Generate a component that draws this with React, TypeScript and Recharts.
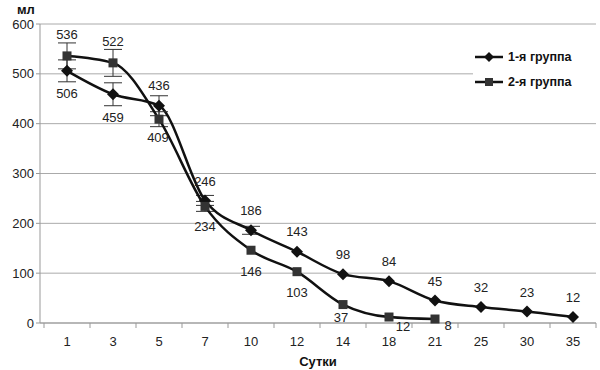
import React from "react";
import { LineChart, Line, XAxis, YAxis, CartesianGrid, ErrorBar, LabelList, Legend } from "recharts";

const days = ["1", "3", "5", "7", "10", "12", "14", "18", "21", "25", "30", "35"];
const group1 = [506, 459, 436, 246, 186, 143, 98, 84, 45, 32, 23, 12];
const group1Err = [22, 23, 20, 10, 8, 0, 0, 0, 0, 0, 0, 0];
const group2: (number | null)[] = [536, 522, 409, 234, 146, 103, 37, 12, 8, null, null, null];
const group2Err = [26, 27, 15, 10, 0, 0, 0, 0, 0, 0, 0, 0];
const yTicks = [0, 100, 200, 300, 400, 500, 600];
const seriesNames = ["1-я группа", "2-я группа"];

// label placement (style only): [dx, dy]
const g1Place: [number, number][] = [
  [0, 24], [0, 24], [0, -19], [0, -18], [0, -19], [0, -19], [0, -19], [0, -19], [0, -18], [0, -18], [0, -18], [0, -18],
];
const g2Place: [number, number][] = [
  [0, -20], [0, -20], [-1, 19], [0, 21], [0, 22], [0, 22], [-2, 14], [14, 11], [13, 8], [0, 0], [0, 0], [0, 0],
];

const data = days.map((d, i) => ({
  day: d,
  g1: group1[i],
  g1e: group1Err[i] || undefined,
  g2: group2[i],
  g2e: group2Err[i] || undefined,
}));

const FONT = "'Liberation Sans', Arial, sans-serif";

const Diamond = (props: any) => {
  const { cx, cy } = props;
  if (cx == null || cy == null) return null;
  const s = 6;
  return <polygon points={`${cx},${cy - s} ${cx + s},${cy} ${cx},${cy + s} ${cx - s},${cy}`} fill="#111" />;
};
const Square = (props: any) => {
  const { cx, cy } = props;
  if (cx == null || cy == null || props.value == null) return null;
  return <rect x={cx - 4.5} y={cy - 4.5} width={9} height={9} fill="#333" />;
};

const makeLabel = (place: [number, number][]) => (props: any) => {
  const { x, y, value, index } = props;
  if (value == null) return null;
  const [dx, dy] = place[index] || [0, 0];
  return (
    <text
      x={x + dx}
      y={y + dy}
      textAnchor="middle"
      dominantBaseline="middle"
      fontSize={13}
      fill="#222"
      stroke="none"
      style={{ fill: "#222", stroke: "none" }}
      fontFamily={FONT}
    >
      {value}
    </text>
  );
};

const XTick = (props: any) => {
  const { x, y, payload, index } = props;
  const off = payload.offset || 23;
  return (
    <g>
      <line x1={x - off} x2={x - off} y1={y - 8} y2={y - 3} stroke="#999" />
      {index === days.length - 1 && <line x1={x + off} x2={x + off} y1={y - 8} y2={y - 3} stroke="#999" />}
      <text x={x} y={y + 15} textAnchor="middle" fontSize={13} fill="#222" fontFamily={FONT}>
        {payload.value}
      </text>
    </g>
  );
};

const LegendContent = () => (
  <div style={{ fontFamily: FONT, fontSize: 12.5, fontWeight: "bold", color: "#111", background: "#fff" }}>
    {seriesNames.map((n, i) => (
      <div key={n} style={{ display: "flex", alignItems: "center", height: 25 }}>
        <svg width={32} height={12} style={{ marginRight: 3 }}>
          <line x1={2} x2={30} y1={6} y2={6} stroke="#111" strokeWidth={2.5} />
          {i === 0 ? (
            <polygon points="16,1 21,6 16,11 11,6" fill="#111" />
          ) : (
            <rect x={12} y={2} width={8} height={8} fill="#333" />
          )}
        </svg>
        <span>{n}</span>
      </div>
    ))}
  </div>
);

export default function App() {
  return (
    <div style={{ position: "absolute", left: 0, top: 0, width: 600, height: 370, background: "#fff" }}>
      <LineChart width={600} height={370} data={data} margin={{ top: 24, right: 4, left: 0, bottom: 0 }}>
        <CartesianGrid horizontal vertical={false} stroke="#aaa" strokeWidth={1} />
        <XAxis
          dataKey="day"
          scale="band"
          padding={{ left: 4, right: 0 }}
          height={47}
          stroke="#999"
          tickLine={false}
          tick={<XTick />}
          interval={0}
          label={{ value: "Сутки", position: "insideBottom", offset: 4, style: { fontFamily: FONT, fontSize: 13, fontWeight: "bold", fill: "#111" } }}
        />
        <YAxis
          width={40}
          domain={[0, 600]}
          ticks={yTicks}
          stroke="#999"
          tickSize={4}
          tick={{ fontSize: 13, fill: "#222", fontFamily: FONT }}
          label={{
            content: () => (
              <text x={17} y={14} fontSize={13} fontWeight="bold" fill="#111" fontFamily={FONT}>
                мл
              </text>
            ),
          }}
        />
        <Legend
          layout="vertical"
          align="center"
          verticalAlign="middle"
          content={<LegendContent />}
          wrapperStyle={{ left: 473, top: 42, width: 127, height: 70, background: "#fff", paddingTop: 2 }}
        />
        <Line
          dataKey="g1"
          name={seriesNames[0]}
          type="monotone"
          stroke="#111"
          strokeWidth={2.5}
          dot={<Diamond />}
          activeDot={false}
          isAnimationActive={false}
        >
          <ErrorBar dataKey="g1e" width={9} stroke="#333" strokeWidth={1} direction="y" />
          <LabelList dataKey="g1" content={makeLabel(g1Place)} />
        </Line>
        <Line
          dataKey="g2"
          name={seriesNames[1]}
          type="monotone"
          stroke="#111"
          strokeWidth={2.5}
          dot={<Square />}
          activeDot={false}
          connectNulls={false}
          isAnimationActive={false}
        >
          <ErrorBar dataKey="g2e" width={9} stroke="#333" strokeWidth={1} direction="y" />
          <LabelList dataKey="g2" content={makeLabel(g2Place)} />
        </Line>
      </LineChart>
    </div>
  );
}
